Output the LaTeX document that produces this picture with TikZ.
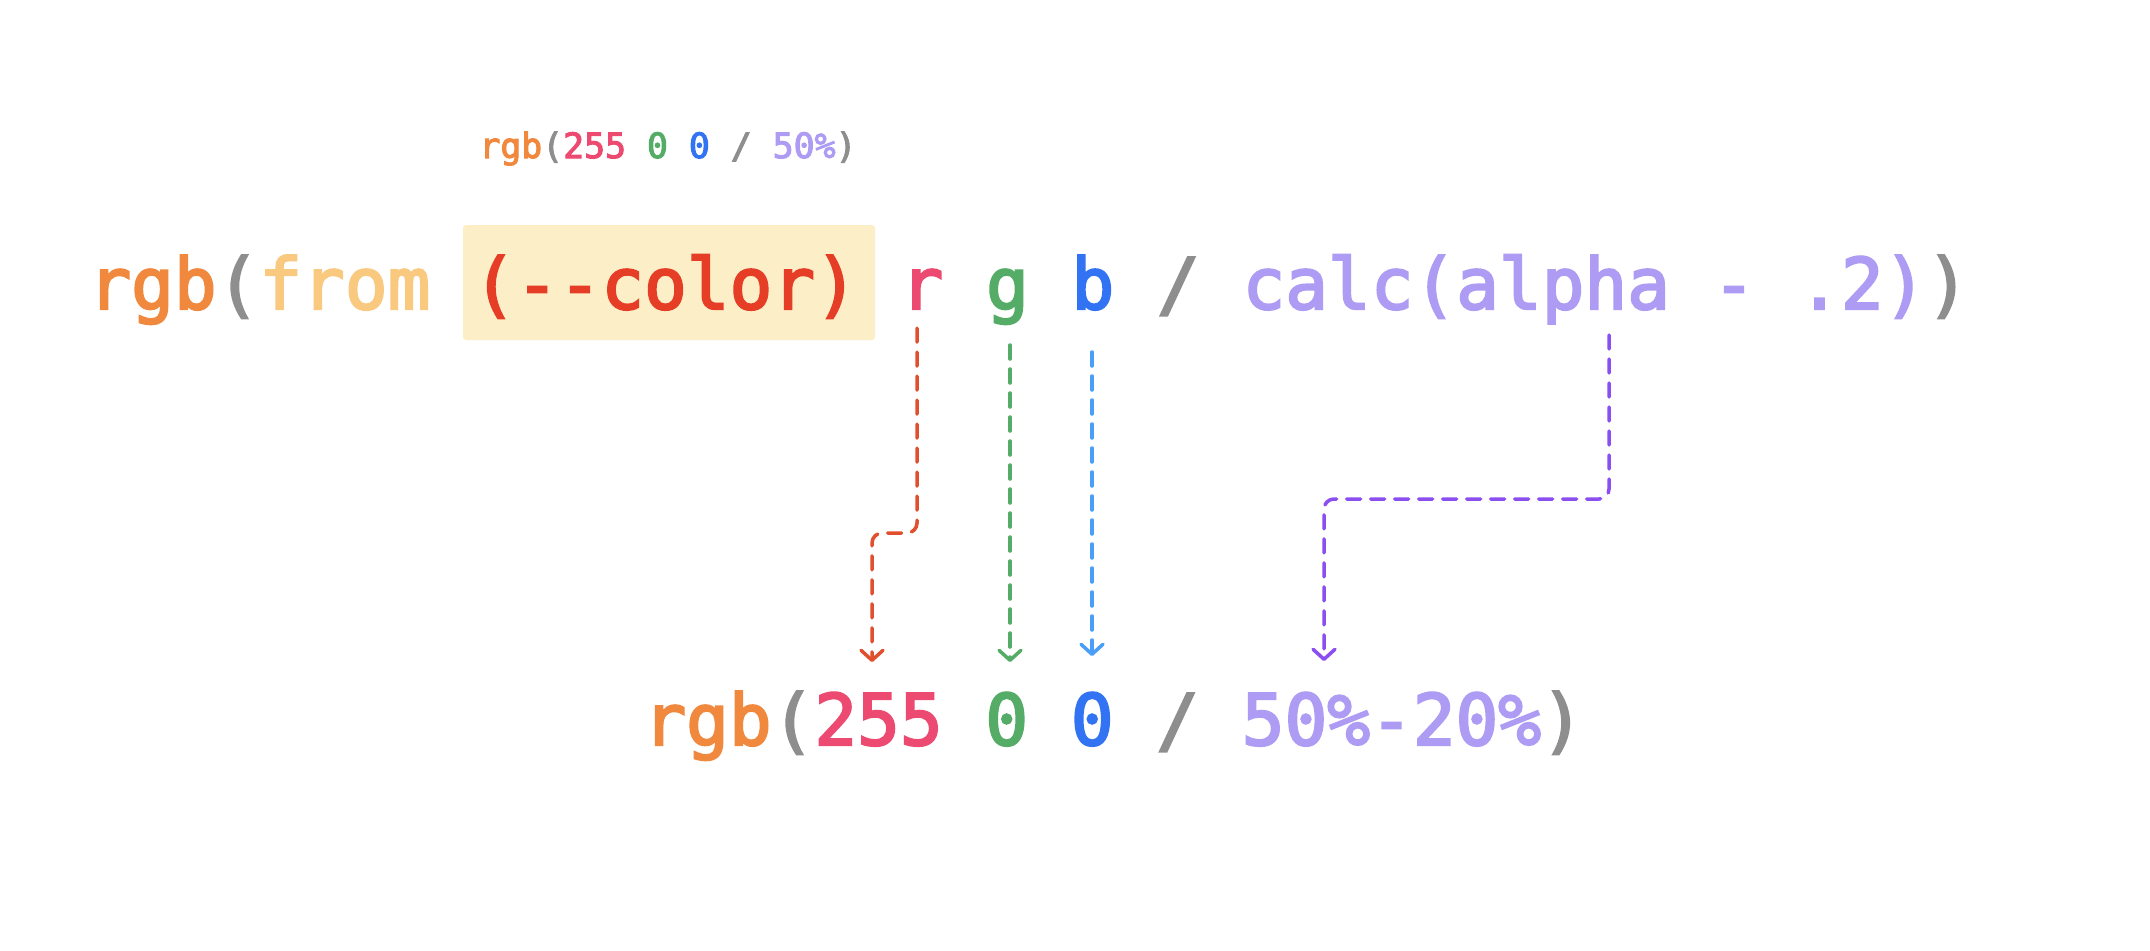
\documentclass[tikz,border=0pt]{standalone}
\usepackage{fontspec}
\newfontfamily\codefont{DejaVu Sans Mono}[Ligatures=TeXOff, FakeBold=3]
\usetikzlibrary{arrows.meta}
\definecolor{cOr}{HTML}{F0883E}
\definecolor{cGr}{HTML}{8E8E8E}
\definecolor{cFrom}{HTML}{F8C97E}
\definecolor{cHl}{HTML}{FCEFC8}
\definecolor{cRed}{HTML}{E63E26}
\definecolor{cR}{HTML}{EC4A70}
\definecolor{cG}{HTML}{55AC66}
\definecolor{cB}{HTML}{3173F2}
\definecolor{cLav}{HTML}{AE9CF4}
\definecolor{aRed}{HTML}{E0502E}
\definecolor{aGreen}{HTML}{55AC66}
\definecolor{aBlue}{HTML}{4B9EF8}
\definecolor{aPurple}{HTML}{8B4EF0}
\begin{document}
\begin{tikzpicture}[x=0.5pt,y=-0.5pt,
  code/.style={inner sep=0pt, anchor=base west, font=\codefont\fontsize{35.5pt}{40pt}\selectfont},
  small/.style={inner sep=0pt, anchor=base west, font=\codefont\fontsize{17.4pt}{20pt}\selectfont},
  link/.style={line width=1.75pt, dash pattern=on 7pt off 5pt, line cap=round, rounded corners=5pt,
    -{Straight Barb[length=5pt,width=11pt,round]}}]
\useasboundingbox (0,0) rectangle (2150,950);
\fill[white] (0,0) rectangle (2150,950);
% highlight box
\node (hl) [fill=cHl, rounded corners=1.5pt, inner sep=0pt, minimum width=206pt, minimum height=57.5pt] at (669,282.5) {};
% example
\node[small] (ex) at (479,158) {\color{cOr}rgb\color{cGr}(\color{cR}255 \color{cG}0 \color{cB}0 \color{cGr}/ \color{cLav}50\%\color{cGr})};
% main line
\node[code] (main) at (88,309) {\color{cOr}rgb\color{cGr}(\color{cFrom}from \color{cRed}(--color) \color{cR}r \color{cG}g \color{cB}b \color{cGr}/ \color{cLav}calc(alpha - .2)\color{cGr})};
% result line
\node[code] (res) at (643,745) {\color{cOr}rgb\color{cGr}(\color{cR}255 \color{cG}0 \color{cB}0 \color{cGr}/ \color{cLav}50\%-20\%\color{cGr})};
% connector ends
\coordinate (rS) at (917,328);
\coordinate (rE) at (872,662);
\coordinate (gS) at (1010,345);
\coordinate (gE) at (1010,662);
\coordinate (bS) at (1092,352);
\coordinate (bE) at (1092,656);
\coordinate (pS) at (1609,335);
\coordinate (pE) at (1324,661);
\draw[link, aRed] (rS) -- ++(0,205) -| (rE);
\draw[link, aGreen] (gS) -- (gE);
\draw[link, aBlue] (bS) -- (bE);
\draw[link, aPurple] (pS) -- ++(0,164) -| (pE);
\end{tikzpicture}
\end{document}
